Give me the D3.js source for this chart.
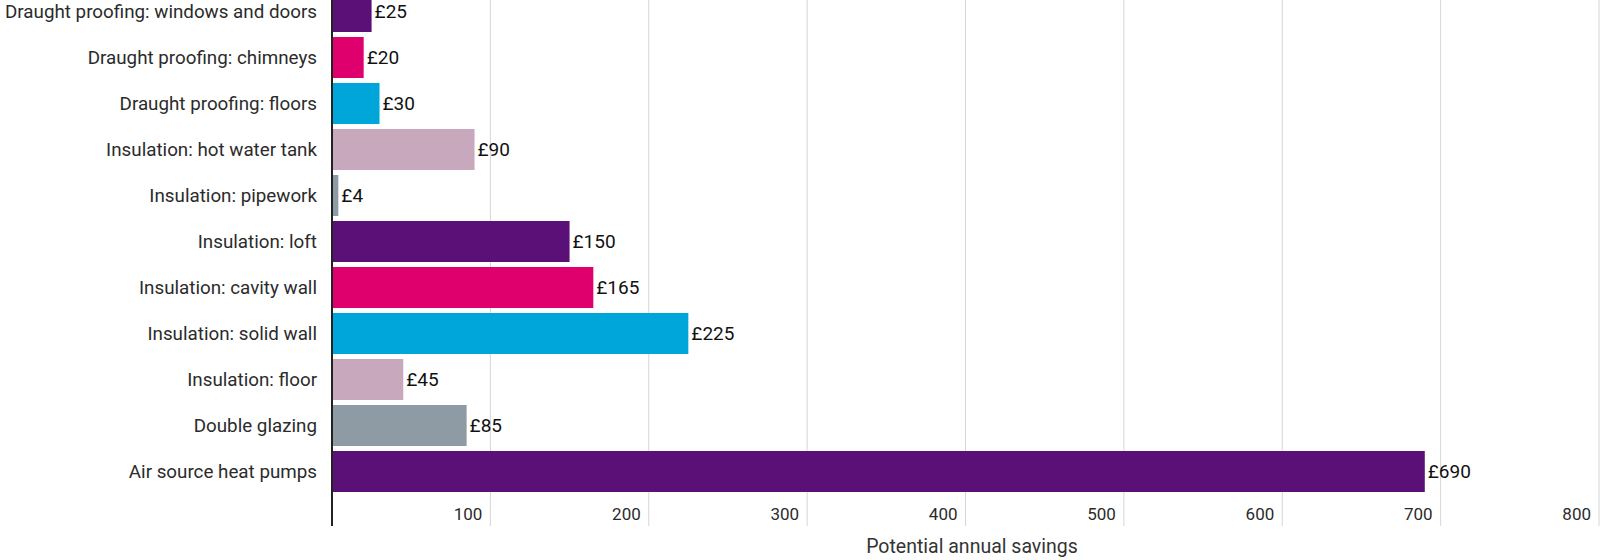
<!DOCTYPE html>
<html lang="en">
<head>
    <meta charset="UTF-8">
    <title>Potential annual savings</title>
    <script src="https://d3js.org/d3.v7.min.js"></script>
    <style>
        body { margin: 0; background: #fff; }
        svg { display: block; font-family: Roboto, "Noto Sans", sans-serif; }
        .cat { font-size: 18.8px; fill: #2b2b2b; text-anchor: end; }
        .tick-label { font-size: 17px; fill: #2b2b2b; text-anchor: end; }
        .value { font-size: 19px; fill: #111; }
        .title { font-size: 19.5px; fill: #333; text-anchor: middle; }
    </style>
</head>
<body>
<svg id="chart"></svg>
<script>
    // data
    const categories = [
        "Draught proofing: windows and doors",
        "Draught proofing: chimneys",
        "Draught proofing: floors",
        "Insulation: hot water tank",
        "Insulation: pipework",
        "Insulation: loft",
        "Insulation: cavity wall",
        "Insulation: solid wall",
        "Insulation: floor",
        "Double glazing",
        "Air source heat pumps"
    ];
    const savings = [25, 20, 30, 90, 4, 150, 165, 225, 45, 85, 690];
    const barColors = ["#5b1077", "#df006e", "#00a6da", "#c8a8bd", "#8e9aa4",
                       "#5b1077", "#df006e", "#00a6da", "#c8a8bd", "#8e9aa4", "#5b1077"];
    const xTicks = [100, 200, 300, 400, 500, 600, 700, 800];
    const xTitle = "Potential annual savings";

    const width = 1600, height = 560;
    const plotLeft = 332, plotRight = 1599, plotBottom = 526;

    const svg = d3.select("#chart").attr("width", width).attr("height", height);

    const x = d3.scaleLinear().domain([0, 800]).range([plotLeft, plotRight]);
    const y = d3.scaleBand()
        .domain(categories)
        .range([-11.5, 494.5])
        .paddingInner(5 / 46)
        .paddingOuter(2.5 / 46);

    const rows = categories.map((c, i) => ({ name: c, value: savings[i], color: barColors[i] }));

    // gridlines
    svg.append("g")
        .selectAll("line")
        .data(xTicks)
        .enter()
        .append("line")
        .attr("x1", d => x(d))
        .attr("x2", d => x(d))
        .attr("y1", 0)
        .attr("y2", plotBottom)
        .attr("stroke", "#d6d6d6")
        .attr("stroke-width", 1);

    // tick labels
    svg.append("g")
        .selectAll("text")
        .data(xTicks)
        .enter()
        .append("text")
        .attr("class", "tick-label")
        .attr("x", d => x(d) - 8)
        .attr("y", 520)
        .text(d => d);

    // bars
    svg.selectAll(".bar")
        .data(rows)
        .enter()
        .append("rect")
        .attr("class", "bar")
        .attr("x", x(0))
        .attr("y", d => y(d.name))
        .attr("width", d => x(d.value) - x(0))
        .attr("height", y.bandwidth())
        .attr("fill", d => d.color);

    // value labels
    svg.selectAll(".value")
        .data(rows)
        .enter()
        .append("text")
        .attr("class", "value")
        .attr("x", d => x(d.value) + 3)
        .attr("y", d => y(d.name) + y.bandwidth() / 2)
        .attr("dy", "0.35em")
        .text(d => "£" + d.value);

    // category labels
    svg.selectAll(".cat")
        .data(rows)
        .enter()
        .append("text")
        .attr("class", "cat")
        .attr("x", plotLeft - 15)
        .attr("y", d => y(d.name) + y.bandwidth() / 2)
        .attr("dy", "0.35em")
        .text(d => d.name);

    // left axis line
    svg.append("line")
        .attr("x1", plotLeft)
        .attr("x2", plotLeft)
        .attr("y1", 0)
        .attr("y2", plotBottom)
        .attr("stroke", "#222")
        .attr("stroke-width", 2);

    svg.append("text")
        .attr("class", "title")
        .attr("x", 972)
        .attr("y", 553)
        .text(xTitle);
</script>
</body>
</html>
